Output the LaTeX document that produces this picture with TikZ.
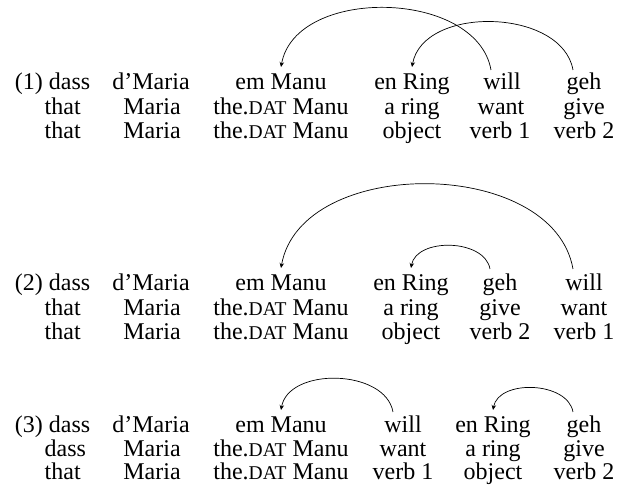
\documentclass[tikz,border=0pt]{standalone}
\usepackage{fontspec}
\setmainfont{Liberation Serif}
\usetikzlibrary{arrows.meta}
\newcommand{\datcaps}{{\fontsize{19.5}{20}\selectfont DAT}}
\tikzset{
  w/.style={anchor=base,inner sep=0pt,font=\fontsize{24}{26}\selectfont},
  mv/.style={line width=0.7pt,-{Stealth[length=5pt,width=4.5pt]}},
}
\begin{document}
\begin{tikzpicture}[x=1pt,y=1pt]
\useasboundingbox (0,0) rectangle (624,486);
% ---------- block 1 ----------
\node[w,anchor=base east] (a1) at (90.5,396) {(1) dass};
\node[w] (a2) at (151,396) {d'Maria};
\node[w] (a3) at (281,396) {em Manu};
\node[w] (a4) at (412,396) {en Ring};
\node[w] (a5) at (502,396) {will};
\node[w] (a6) at (584,396) {geh};
\node[w,anchor=base west] (b1) at (44.5,371.5) {that};
\node[w] (b2) at (152,371.5) {Maria};
\node[w] (b3) at (281,371.5) {the.\datcaps{} Manu};
\node[w] (b4) at (412,371.5) {a ring};
\node[w] (b5) at (501,371.5) {want};
\node[w] (b6) at (584,371.5) {give};
\node[w,anchor=base west] (c1) at (44.5,347) {that};
\node[w] (c2) at (152,347) {Maria};
\node[w] (c3) at (281,347) {the.\datcaps{} Manu};
\node[w] (c4) at (412,347) {object};
\node[w] (c5) at (500,347) {verb 1};
\node[w] (c6) at (584,347) {verb 2};
\draw[mv] ([shift={(-11,20)}]a5.base) to[out=100,in=80] ([shift={(0,23)}]a3.base);
\draw[mv] ([shift={(-11,20)}]a6.base) to[out=100,in=80] ([shift={(0,23)}]a4.base);
% ---------- block 2 ----------
\node[w,anchor=base east] (d1) at (90.5,195) {(2) dass};
\node[w] (d2) at (151,195) {d'Maria};
\node[w] (d3) at (281,195) {em Manu};
\node[w] (d4) at (411,195) {en Ring};
\node[w] (d5) at (500,195) {geh};
\node[w] (d6) at (584,195) {will};
\node[w,anchor=base west] (e1) at (44.5,170) {that};
\node[w] (e2) at (152,170) {Maria};
\node[w] (e3) at (281,170) {the.\datcaps{} Manu};
\node[w] (e4) at (411,170) {a ring};
\node[w] (e5) at (500,170) {give};
\node[w] (e6) at (584,170) {want};
\node[w,anchor=base west] (f1) at (44.5,146) {that};
\node[w] (f2) at (152,146) {Maria};
\node[w] (f3) at (281,146) {the.\datcaps{} Manu};
\node[w] (f4) at (411,146) {object};
\node[w] (f5) at (500,146) {verb 2};
\node[w] (f6) at (584,146) {verb 1};
\draw[mv] ([shift={(-11,22)}]d6.base) to[out=100,in=80] ([shift={(0,23)}]d3.base);
\draw[mv] ([shift={(-10,22)}]d5.base) to[out=100,in=80] ([shift={(0,23)}]d4.base);
% ---------- block 3 ----------
\node[w,anchor=base east] (g1) at (90.5,53) {(3) dass};
\node[w] (g2) at (151,53) {d'Maria};
\node[w] (g3) at (281,53) {em Manu};
\node[w] (g4) at (403,53) {will};
\node[w] (g5) at (493,53) {en Ring};
\node[w] (g6) at (584,53) {geh};
\node[w,anchor=base west] (h1) at (44.5,29) {dass};
\node[w] (h2) at (152,29) {Maria};
\node[w] (h3) at (281,29) {the.\datcaps{} Manu};
\node[w] (h4) at (403,29) {want};
\node[w] (h5) at (493,29) {a ring};
\node[w] (h6) at (584,29) {give};
\node[w,anchor=base west] (i1) at (44.5,6) {that};
\node[w] (i2) at (152,6) {Maria};
\node[w] (i3) at (281,6) {the.\datcaps{} Manu};
\node[w] (i4) at (403,6) {verb 1};
\node[w] (i5) at (493,6) {object};
\node[w] (i6) at (584,6) {verb 2};
\draw[mv] ([shift={(-10,21)}]g4.base) to[out=100,in=80] ([shift={(0,23)}]g3.base);
\draw[mv] ([shift={(-11,21)}]g6.base) to[out=100,in=80] ([shift={(0,23)}]g5.base);
\end{tikzpicture}
\end{document}
